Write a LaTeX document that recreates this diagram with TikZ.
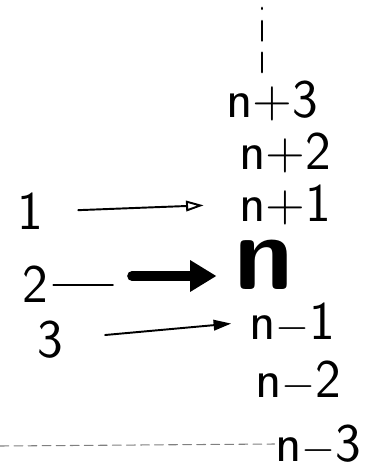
\documentclass[tikz,border=0pt]{standalone}
\usetikzlibrary{arrows.meta}
\begin{document}
\begin{tikzpicture}[x=0.02cm,y=-0.02cm,line cap=round,line join=round,
  lbl/.style={font=\sffamily\fontsize{31}{34}\selectfont,inner sep=0pt,text height=20pt,text depth=0pt},
  biglbl/.style={font=\sffamily\bfseries\fontsize{60}{62}\selectfont,inner sep=0pt,text height=27pt,text depth=0pt},
  thinarr/.style={line width=1.1pt},
  fatarr/.style={line width=5.5pt,-{Triangle[length=15pt,width=17pt]}}]
\useasboundingbox (0,0) rectangle (365,468);

\coordinate (top) at (262,8);          % upper end of the dotted column
\coordinate (m2) at (113,285);         % end of the thin stroke after 2
\coordinate (f2) at (132,276);         % start of the thick arrow
\coordinate (dl) at (0,446);           % left end of the dashed line

\node[lbl] (np3) at (272,100) {n+3};
\node[lbl] (np2) at (285,152) {n+2};
\node[lbl] (np1) at (285,204) {n+1};
\node[biglbl] (n) at (264,266) {n};
\node[lbl] (nm1) at (292,322) {n$-$1};
\node[lbl] (nm2) at (298,380) {n$-$2};
\node[lbl] (nm3) at (318,444) {n$-$3};

\node[lbl] (one) at (30,212) {1};
\node[lbl] (two) at (35,285) {2};
\node[lbl] (three) at (50,340) {3};

\draw[line width=1.6pt,dash pattern=on 11pt off 7pt] (np3.north) ++(-10,-10) -- (top);

\draw[thinarr,-{Triangle[open,length=10pt,width=6pt]},shorten <=20pt,shorten >=20pt] (one) -- (np1.west);
\draw[thinarr,shorten <=3pt] (two.east) -- (m2);
\draw[fatarr,shorten >=10pt] (f2) -- (f2 -| n.west);
\draw[thinarr,-{Triangle[length=10pt,width=6pt]},shorten <=24pt,shorten >=10pt] (three) -- (nm1.west);

\draw[gray,line width=0.6pt,dash pattern=on 5pt off 3pt] (dl) -- (nm3.west);
\end{tikzpicture}
\end{document}
